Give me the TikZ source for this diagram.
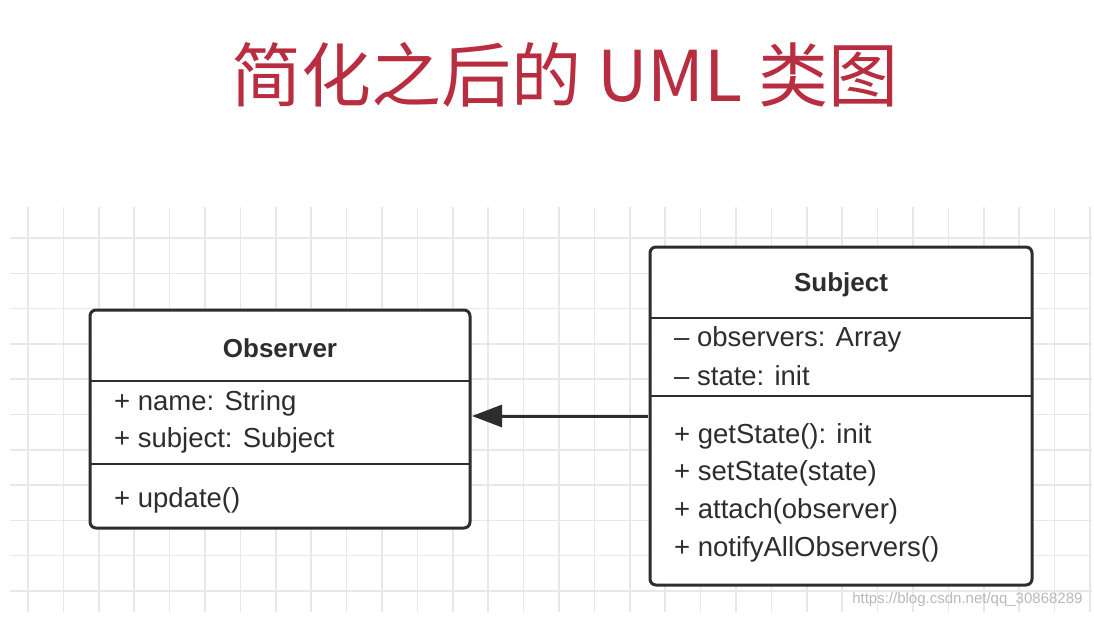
\documentclass[tikz,border=0pt]{standalone}
\usepackage{fontspec}
\setmainfont{Liberation Sans}
\newfontfamily\cjk{Noto Sans CJK SC}
\usetikzlibrary{arrows.meta}
\definecolor{titred}{RGB}{185,45,65}
\definecolor{gridc}{RGB}{232,232,236}
\definecolor{boxc}{RGB}{45,45,45}
\begin{document}
\begin{tikzpicture}[x=1pt,y=-1pt,
  box/.style={draw=boxc,line width=3pt,rounded corners=6pt,fill=white},
  sep/.style={draw=boxc,line width=2.5pt},
  txt/.style={anchor=west,font=\fontsize{27.5}{30}\selectfont,text=boxc,inner sep=0pt},
  hdr/.style={font=\fontsize{26}{30}\selectfont\bfseries,text=boxc,inner sep=0pt}]
\useasboundingbox (0,0) rectangle (1094,618);
\fill[white] (0,0) rectangle (1094,618);
\foreach \i in {0,...,30} \draw[gridc,line width=1.5pt] ({28+35.4*\i},207) -- ({28+35.4*\i},612);
\foreach \j in {0,...,10} \draw[gridc,line width=1.5pt] (10,{238+35.3*\j}) -- (1092,{238+35.3*\j});
\node[text=titred,font=\cjk\fontsize{70}{74}\selectfont] (title) at (565,75) {简化之后的 UML 类图};
% Observer
\draw[box] (90,310) rectangle (470,528);
\draw[sep] (90,381) -- (470,381);
\draw[sep] (90,464) -- (470,464);
\node[hdr] (oh) at (280,348) {Observer};
\node[txt] (o1) at (114,403) {+ name: String};
\node[txt] (o2) at (114,440) {+ subject: Subject};
\node[txt] (o3) at (114,500) {+ update()};
\coordinate (oR) at (472,416);
% Subject
\draw[box] (650,247) rectangle (1032,585);
\draw[sep] (650,318) -- (1032,318);
\draw[sep] (650,396) -- (1032,396);
\node[hdr] (sh) at (841,285) {Subject};
\node[txt] (s1) at (674,339) {– observers: Array};
\node[txt] (s2) at (674,376) {– state: init};
\node[txt] (s3) at (674,436) {+ getState(): init};
\node[txt] (s4) at (674,473) {+ setState(state)};
\node[txt] (s5) at (674,511) {+ attach(observer)};
\node[txt] (s6) at (674,549) {+ notifyAllObservers()};
\coordinate (sL) at (648,416);
\draw[boxc,line width=3pt,-{Triangle[length=30pt,width=22pt]}] (sL) -- (oR);
\node[anchor=east,text=gray!55,font=\fontsize{15}{18}\selectfont] (wm) at (1086,600) {https://blog.csdn.net/qq\_30868289};
\end{tikzpicture}
\end{document}
